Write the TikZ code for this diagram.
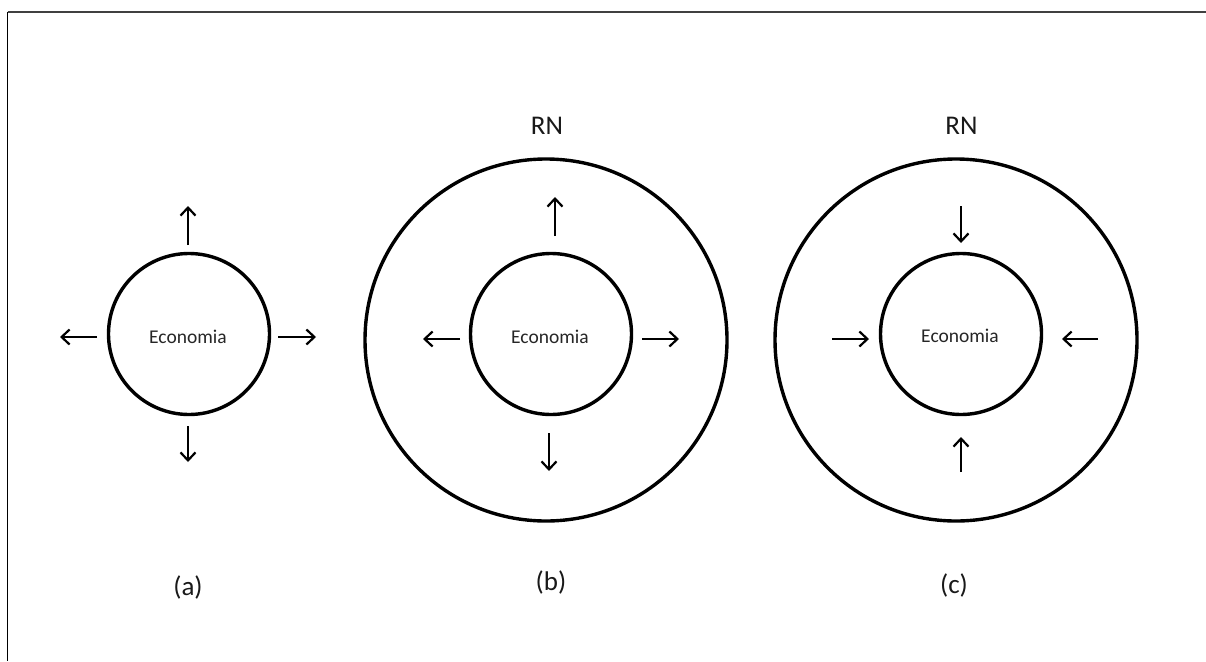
\documentclass[tikz,border=0pt]{standalone}
\usepackage{fontspec}
\setmainfont{Carlito}
\usetikzlibrary{arrows.meta}
\begin{document}
\begin{tikzpicture}[x=1pt,y=-1pt,
  ring/.style={draw,circle,line width=3.4pt,inner sep=0pt},
  econ/.style={ring,minimum size=161pt},
  econtext/.style={font=\fontsize{19.5}{22}\selectfont,text=black!85},
  outerring/.style={ring,minimum size=362pt},
  arr/.style={line width=2.2pt,-{Straight Barb[length=8pt,width=15pt]}},
  lbl/.style={font=\fontsize{27}{30}\selectfont,text=black!90,inner sep=0pt}]
\useasboundingbox (0,0) rectangle (1206,661);
\fill[white] (0,0) rectangle (1206,661);
% frame
\coordinate (fTL) at (7.5,12);
\coordinate (fTR) at (1206,12);
\coordinate (fBL) at (7.5,661);
\draw[line width=1.6pt,black!75] (fTL) -- (fTR);
\draw[line width=1.6pt,black] (fTL) -- (fBL);

% (a)
\node[econ] (ea) at (189,334) {};
\node[econtext] (ta) at (188,337) {Economia};
\coordinate (a1s) at (188,245); \coordinate (a1e) at (188,206);
\coordinate (a2s) at (188,426); \coordinate (a2e) at (188,462);
\coordinate (a3s) at (97,337);  \coordinate (a3e) at (60,337);
\coordinate (a4s) at (278,337); \coordinate (a4e) at (316,337);
\draw[arr] (a1s) -- (a1e);
\draw[arr] (a2s) -- (a2e);
\draw[arr] (a3s) -- (a3e);
\draw[arr] (a4s) -- (a4e);
\node[lbl] (la) at (188,587) {(a)};

% (b)
\node[outerring] (rb) at (546,340) {};
\node[econ] (eb) at (551,334) {};
\node[econtext] (tb) at (550,337) {Economia};
\coordinate (b1s) at (555,236); \coordinate (b1e) at (555,197);
\coordinate (b2s) at (549,433); \coordinate (b2e) at (549,471);
\coordinate (b3s) at (460,339); \coordinate (b3e) at (423,339);
\coordinate (b4s) at (642,339); \coordinate (b4e) at (679,339);
\draw[arr] (b1s) -- (b1e);
\draw[arr] (b2s) -- (b2e);
\draw[arr] (b3s) -- (b3e);
\draw[arr] (b4s) -- (b4e);
\node[lbl] (rnb) at (547,126) {RN};
\node[lbl] (lb) at (551,582) {(b)};

% (c)
\node[outerring] (rc) at (956,340) {};
\node[econ] (ec) at (961,334) {};
\node[econtext] (tc) at (960,336) {Economia};
\coordinate (c1s) at (961,206); \coordinate (c1e) at (961,243);
\coordinate (c2s) at (961,472); \coordinate (c2e) at (961,437);
\coordinate (c3s) at (832,339); \coordinate (c3e) at (869,339);
\coordinate (c4s) at (1098,339); \coordinate (c4e) at (1062,339);
\draw[arr] (c1s) -- (c1e);
\draw[arr] (c2s) -- (c2e);
\draw[arr] (c3s) -- (c3e);
\draw[arr] (c4s) -- (c4e);
\node[lbl] (rnc) at (961.5,126) {RN};
\node[lbl] (lc) at (954,585) {(c)};
\end{tikzpicture}
\end{document}
